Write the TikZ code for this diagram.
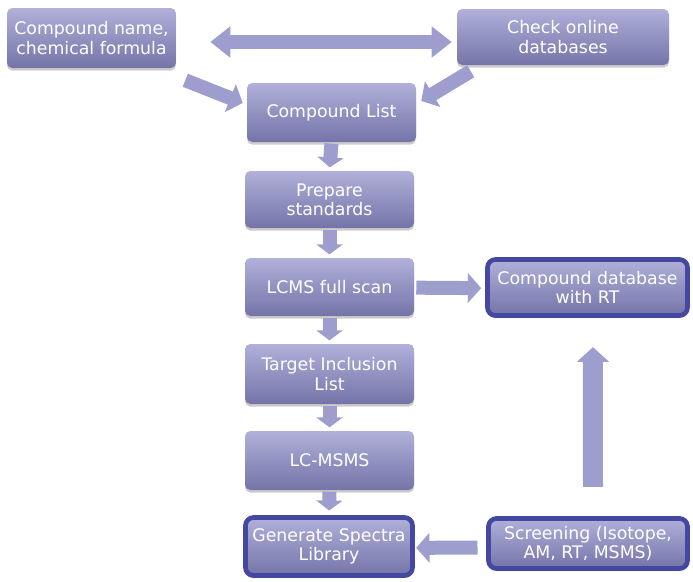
\documentclass[tikz,border=0pt]{standalone}
\usepackage{fontspec}
\setmainfont{DejaVu Sans}
\usetikzlibrary{arrows.meta,shadows,calc}
\definecolor{boxtop}{RGB}{176,176,218}
\definecolor{boxbot}{RGB}{116,116,168}
\definecolor{arrcol}{RGB}{158,158,206}
\definecolor{edgecol}{RGB}{68,72,160}
\tikzset{
  flowbox/.style={rounded corners=4pt, top color=boxtop, bottom color=boxbot,
    text=white, font=\fontsize{13}{14.5}\selectfont, align=center, inner sep=0pt,
    drop shadow={shadow xshift=0pt,shadow yshift=-2pt,opacity=0.4}},
  keybox/.style={flowbox, draw=edgecol, line width=3.5pt, rounded corners=6pt},
  downarr/.style={draw=arrcol, line width=10.5pt, -{Triangle[length=7.5pt,width=19.5pt]}},
  sidearr/.style={draw=arrcol, line width=10.5pt, -{Triangle[length=10pt,width=22pt]}},
  duoarr/.style={draw=arrcol, line width=10pt, {Triangle[length=15pt,width=22.5pt]}-{Triangle[length=15pt,width=22.5pt]}},
  uparr/.style={draw=arrcol, line width=15pt, -{Triangle[length=11pt,width=23.5pt]}}
}
\begin{document}
\begin{tikzpicture}[x=0.75pt,y=-0.75pt]
\useasboundingbox (0,0) rectangle (693,582);
\node[flowbox, minimum width=169*0.75pt, minimum height=60*0.75pt] (name) at (91.5,38) {Compound name,\\chemical formula};
\node[flowbox, minimum width=212*0.75pt, minimum height=56*0.75pt] (online) at (563,37) {Check online\\databases};
\node[flowbox, minimum width=169*0.75pt, minimum height=59*0.75pt] (clist) at (331.5,112.5) {Compound List};
\node[flowbox, minimum width=169*0.75pt, minimum height=57*0.75pt] (prep) at (329.5,199.5) {Prepare\\standards};
\node[flowbox, minimum width=169*0.75pt, minimum height=58*0.75pt] (lcms) at (329.5,287) {LCMS full scan};
\node[flowbox, minimum width=169*0.75pt, minimum height=60*0.75pt] (target) at (329.5,374) {Target Inclusion\\List};
\node[flowbox, minimum width=169*0.75pt, minimum height=59*0.75pt] (msms) at (329.5,460.5) {LC-MSMS};
\node[keybox, minimum width=167*0.75pt, minimum height=58*0.75pt] (gen) at (329,546.5) {Generate Spectra\\Library};
\node[keybox, minimum width=199*0.75pt, minimum height=50*0.75pt] (screen) at (588,543.5) {Screening (Isotope,\\AM, RT, MSMS)};
\node[keybox, minimum width=200*0.75pt, minimum height=56*0.75pt] (db) at (587.5,287.5) {Compound database\\with RT};

\draw[duoarr] ([shift={(34,4)}]name.east) -- ([shift={(-5,5)}]online.west);
\draw[sidearr] ([shift={(9,12)}]name.south east) -- ([shift={(-4,-9.5)}]clist.west);
\draw[sidearr] ([shift={(14,6)}]online.south west) -- ([shift={(5,-11.5)}]clist.east);

\draw[downarr, shorten <=1pt, shorten >=2.5pt] (clist.south) -- (prep.north);
\draw[downarr, shorten <=1pt, shorten >=2.5pt] (prep.south) -- (lcms.north);
\draw[downarr, shorten <=1pt, shorten >=2.5pt] (lcms.south) -- (target.north);
\draw[downarr, shorten <=1pt, shorten >=2.5pt] (target.south) -- (msms.north);
\draw[downarr, shorten <=1pt, shorten >=3.5pt] (msms.south) -- (gen.north);

\draw[sidearr, shorten <=1.5pt, shorten >=3pt] ([yshift=-0.5pt]lcms.east) -- ([yshift=-0.5pt]db.west);
\draw[uparr, shorten <=22pt, shorten >=22pt] ([xshift=3.75pt]screen.north) -- ([xshift=4.1pt]db.south);
\draw[sidearr, shorten <=6.5pt, shorten >=1pt] ([yshift=-3pt]screen.west) -- ([yshift=-1pt]gen.east);
\end{tikzpicture}
\end{document}
